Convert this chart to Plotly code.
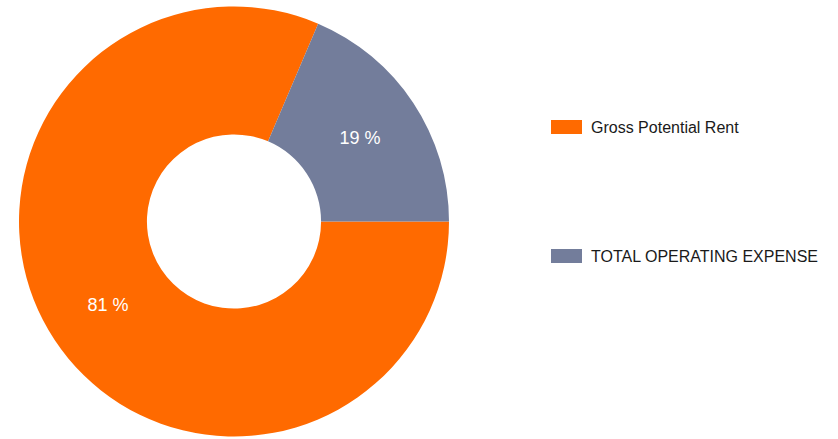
import plotly.graph_objects as go

labels = ["Gross Potential Rent", "TOTAL OPERATING EXPENSE"]
values = [81.4, 18.6]
colors = ["#FF6A00", "#737D9B"]

W, H = 838, 439
total = sum(values)
text = [f"{round(v / total * 100)} %" for v in values]


def px(x):
    return x / W


def py(y):
    return 1 - y / H


fig = go.Figure(go.Pie(
    labels=labels, values=values, text=text, textinfo="text",
    hole=0.405, sort=False, direction="clockwise", rotation=90,
    marker=dict(colors=colors, line=dict(width=0)),
    textposition="inside", insidetextorientation="horizontal",
    textfont=dict(family="Liberation Sans, Arial, sans-serif", size=18, color="white"),
    domain=dict(x=[px(19), px(449)], y=[py(436.5), py(6.5)]),
    showlegend=False, hoverinfo="label+percent",
))

leg_y = [127, 256]
shapes, annotations = [], []
for lab, col, yc in zip(labels, colors, leg_y):
    shapes.append(dict(type="rect", xref="paper", yref="paper",
                       x0=px(551), x1=px(582), y0=py(yc + 7), y1=py(yc - 7),
                       fillcolor=col, line=dict(width=0)))
    annotations.append(dict(text=lab, xref="paper", yref="paper", x=px(589), y=py(yc),
                            xanchor="left", yanchor="middle", showarrow=False,
                            font=dict(family="Liberation Sans, Arial, sans-serif", size=16, color="#1a1a1a")))

fig.update_layout(width=W, height=H, margin=dict(l=0, r=0, t=0, b=0),
                  paper_bgcolor="white", plot_bgcolor="white",
                  shapes=shapes, annotations=annotations)
fig.write_html("out.html", config={"displayModeBar": False},
               post_script="document.body.style.margin='0';document.body.style.overflow='hidden';")
